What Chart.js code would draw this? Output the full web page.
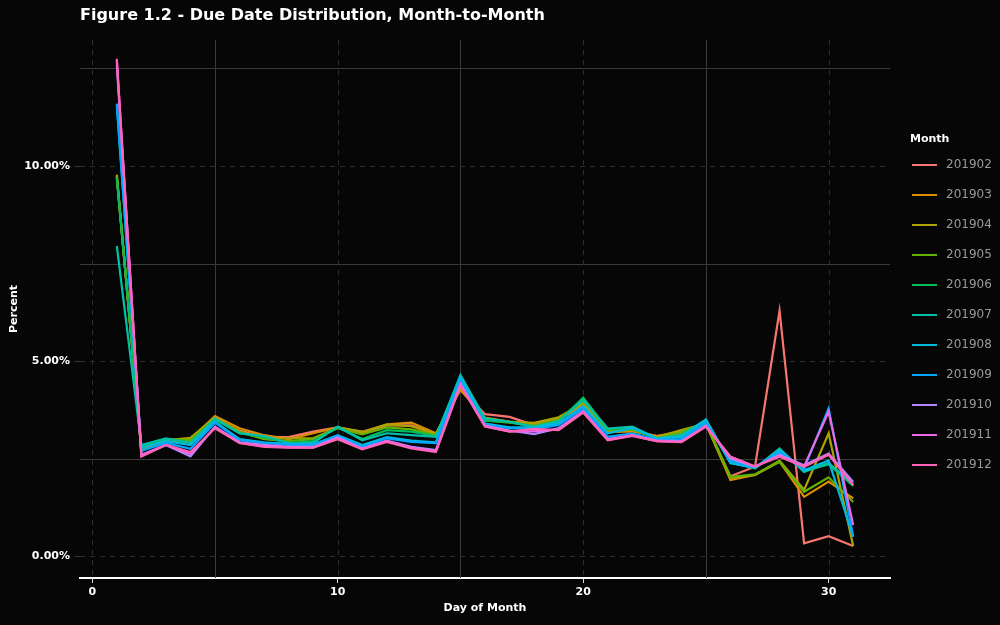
<!DOCTYPE html>
<html>
<head>
<meta charset="utf-8">
<script src="https://cdn.jsdelivr.net/npm/chart.js@4/dist/chart.umd.min.js"></script>
<style>
  html, body { margin: 0; padding: 0; background: #060606; }
  #wrap { width: 1000px; height: 625px; }
</style>
</head>
<body>
<div id="wrap"><canvas id="chart" width="1000" height="625"></canvas></div>
<script>
// days of the month
const days = [1,2,3,4,5,6,7,8,9,10,11,12,13,14,15,16,17,18,19,20,21,22,23,24,25,26,27,28,29,30,31];

const months = ['201902','201903','201904','201905','201906','201907','201908','201909','201910','201911','201912'];
const colors = ['#F8766D','#DB8E00','#AEA200','#64B200','#00BD5C','#00C1A7','#00BADE','#00A6FF','#B385FF','#EF67EB','#FF63B6'];

// percent of due dates falling on each day
const m201902 = [9.70,2.72,2.95,2.95,3.50,3.22,3.05,3.05,3.19,3.30,3.15,3.35,3.35,3.12,4.30,3.64,3.57,3.36,3.49,3.90,3.20,3.22,3.08,3.15,3.38,2.05,2.29,6.29,0.33,0.51,0.26];
const m201903 = [9.75,2.70,2.95,3.00,3.59,3.28,3.10,3.00,3.15,3.30,3.18,3.38,3.42,3.15,4.26,3.55,3.45,3.40,3.52,3.85,3.18,3.20,3.08,3.20,3.40,1.95,2.08,2.42,1.52,1.91,1.48];
const m201904 = [9.78,2.72,2.97,3.03,3.55,3.20,3.02,3.02,3.02,3.30,3.19,3.37,3.33,3.12,4.40,3.50,3.44,3.42,3.56,3.92,3.19,3.23,3.05,3.23,3.40,2.00,2.08,2.45,1.70,3.15,0.26];
const m201905 = [9.72,2.75,3.00,2.98,3.52,3.18,3.00,2.95,3.00,3.28,3.12,3.30,3.25,3.10,4.45,3.48,3.42,3.35,3.50,4.00,3.22,3.25,3.02,3.18,3.42,2.03,2.10,2.42,1.65,2.02,1.39];
const m201906 = [9.70,2.80,3.00,2.92,3.50,3.15,3.05,2.90,2.95,3.30,3.00,3.23,3.19,3.08,4.55,3.47,3.44,3.30,3.45,4.06,3.25,3.30,3.00,3.10,3.45,2.40,2.25,2.70,2.18,2.35,1.80];
const m201907 = [7.95,2.85,3.02,2.90,3.53,3.15,3.08,2.90,2.90,3.32,2.97,3.15,3.10,3.06,4.64,3.53,3.44,3.32,3.46,4.00,3.27,3.32,3.02,3.10,3.50,2.40,2.25,2.76,2.16,2.39,1.85];
const m201908 = [11.55,2.78,2.95,2.85,3.45,3.00,2.92,2.88,2.87,3.10,2.85,3.05,2.96,2.92,4.60,3.40,3.30,3.30,3.40,3.85,3.15,3.28,3.02,3.05,3.50,2.38,2.27,2.70,2.20,2.45,0.50];
const m201909 = [11.60,2.70,2.90,2.75,3.42,2.97,2.90,2.85,2.85,3.08,2.80,3.02,2.93,2.90,4.50,3.36,3.28,3.25,3.36,3.79,3.06,3.15,2.98,3.00,3.42,2.45,2.28,2.66,2.25,3.79,0.50];
const m201910 = [12.60,2.60,2.85,2.56,3.32,2.92,2.85,2.80,2.80,3.05,2.76,2.96,2.80,2.72,4.42,3.35,3.22,3.13,3.28,3.72,3.00,3.10,2.96,2.95,3.35,2.50,2.29,2.60,2.33,2.63,1.90];
const m201911 = [12.70,2.58,2.85,2.62,3.30,2.90,2.82,2.79,2.78,3.02,2.75,2.95,2.78,2.70,4.40,3.33,3.20,3.20,3.25,3.70,2.98,3.09,2.95,2.93,3.33,2.55,2.30,2.57,2.30,3.70,0.80];
const m201912 = [12.75,2.55,2.85,2.67,3.28,2.90,2.80,2.78,2.78,3.00,2.74,2.93,2.76,2.67,4.38,3.32,3.19,3.26,3.23,3.68,2.97,3.08,2.95,2.92,3.32,2.55,2.30,2.55,2.29,2.60,1.82];

const series = [m201902,m201903,m201904,m201905,m201906,m201907,m201908,m201909,m201910,m201911,m201912];

const yMajor = [0, 5, 10];
const yMinor = [2.5, 7.5, 12.5];
const xMajor = [0, 10, 20, 30];
const xMinor = [5, 15, 25];

const FONT = "'DejaVu Sans', sans-serif";

const datasets = series.map(function (vals, i) {
    return {
        label: months[i],
        data: days.map((d, j) => ({ x: d, y: vals[j] })),
        borderColor: colors[i],
        backgroundColor: colors[i],
        borderWidth: 2.2,
        pointRadius: 0,
        tension: 0,
        order: series.length - i
    };
});

// ggplot-like panel grid: solid minor lines, dashed major lines
const gridPlugin = {
    id: 'panelGrid',
    beforeDatasetsDraw(chart) {
        const ctx = chart.ctx;
        const a = chart.chartArea;
        const xs = chart.scales.x, ys = chart.scales.y;
        ctx.save();
        ctx.lineWidth = 1;
        function hline(v, dash, color) {
            const y = Math.round(ys.getPixelForValue(v)) + 0.5;
            ctx.setLineDash(dash); ctx.strokeStyle = color;
            ctx.beginPath(); ctx.moveTo(a.left, y); ctx.lineTo(a.right, y); ctx.stroke();
        }
        function vline(v, dash, color) {
            const x = Math.round(xs.getPixelForValue(v)) + 0.5;
            ctx.setLineDash(dash); ctx.strokeStyle = color;
            ctx.beginPath(); ctx.moveTo(x, a.top); ctx.lineTo(x, a.bottom); ctx.stroke();
        }
        yMinor.forEach(v => hline(v, [], '#3a3a3a'));
        xMinor.forEach(v => vline(v, [], '#3a3a3a'));
        yMajor.forEach(v => hline(v, [5, 5], '#2e2e2e'));
        xMajor.forEach(v => vline(v, [5, 5], '#2e2e2e'));
        ctx.restore();
    }
};

const titlePlugin = {
    id: 'figTitle',
    afterDraw(chart) {
        const ctx = chart.ctx;
        ctx.save();
        ctx.fillStyle = '#ffffff';
        ctx.font = "bold 16px " + FONT;
        ctx.textBaseline = 'middle';
        ctx.textAlign = 'left';
        ctx.fillText('Figure 1.2 - Due Date Distribution, Month-to-Month', 80, 16);
        ctx.restore();
    }
};

const legendPlugin = {
    id: 'monthLegend',
    afterDraw(chart) {
        const ctx = chart.ctx;
        ctx.save();
        ctx.textBaseline = 'middle';
        ctx.textAlign = 'left';
        ctx.fillStyle = '#ffffff';
        ctx.font = "bold 11px " + FONT;
        ctx.fillText('Month', 910, 139);
        ctx.font = "12px " + FONT;
        chart.data.datasets.forEach(function (ds, i) {
            const y = 165 + i * 30;
            ctx.strokeStyle = ds.borderColor;
            ctx.lineWidth = 2;
            ctx.setLineDash([]);
            ctx.beginPath(); ctx.moveTo(912, y); ctx.lineTo(937, y); ctx.stroke();
            ctx.fillStyle = '#9a9a9a';
            ctx.fillText(ds.label, 946, y);
        });
        ctx.restore();
    }
};

const bgPlugin = {
    id: 'bg',
    beforeDraw(chart) {
        const ctx = chart.ctx;
        ctx.save();
        ctx.fillStyle = '#060606';
        ctx.fillRect(0, 0, chart.width, chart.height);
        ctx.restore();
    }
};

new Chart(document.getElementById('chart'), {
    type: 'line',
    data: { datasets: datasets },
    options: {
        responsive: false,
        animation: false,
        layout: { padding: { left: 0, right: 110, top: 40, bottom: 0 } },
        plugins: {
            legend: { display: false },
            tooltip: { enabled: false },
            title: { display: false }
        },
        scales: {
            x: {
                type: 'linear',
                min: -0.5,
                max: 32.5,
                afterFit(scale) { scale.height = 47; },
                ticks: {
                    stepSize: 10,
                    includeBounds: false,
                    color: '#ffffff',
                    font: { family: FONT, size: 11, weight: 'bold' },
                    padding: 3,
                    maxRotation: 0
                },
                grid: { drawOnChartArea: false, drawTicks: true, tickLength: 5, tickColor: '#dddddd', tickWidth: 1 },
                border: { display: true, color: '#ffffff', width: 2 },
                title: {
                    display: true,
                    text: 'Day of Month',
                    color: '#ffffff',
                    font: { family: FONT, size: 11, weight: 'bold' },
                    padding: { top: 0, bottom: 10 }
                }
            },
            y: {
                type: 'linear',
                min: -0.56,
                max: 13.23,
                afterFit(scale) { scale.width = 80; },
                ticks: {
                    stepSize: 5,
                    includeBounds: false,
                    color: '#ffffff',
                    font: { family: FONT, size: 11, weight: 'bold' },
                    padding: 4,
                    callback: v => v.toFixed(2) + '%'
                },
                grid: { drawOnChartArea: false, drawTicks: true, tickLength: 6, tickColor: '#333333' },
                border: { display: false },
                title: {
                    display: true,
                    text: 'Percent',
                    color: '#ffffff',
                    font: { family: FONT, size: 11, weight: 'bold' },
                    padding: { top: 8, bottom: 0 }
                }
            }
        }
    },
    plugins: [bgPlugin, gridPlugin, titlePlugin, legendPlugin]
});
</script>
</body>
</html>
